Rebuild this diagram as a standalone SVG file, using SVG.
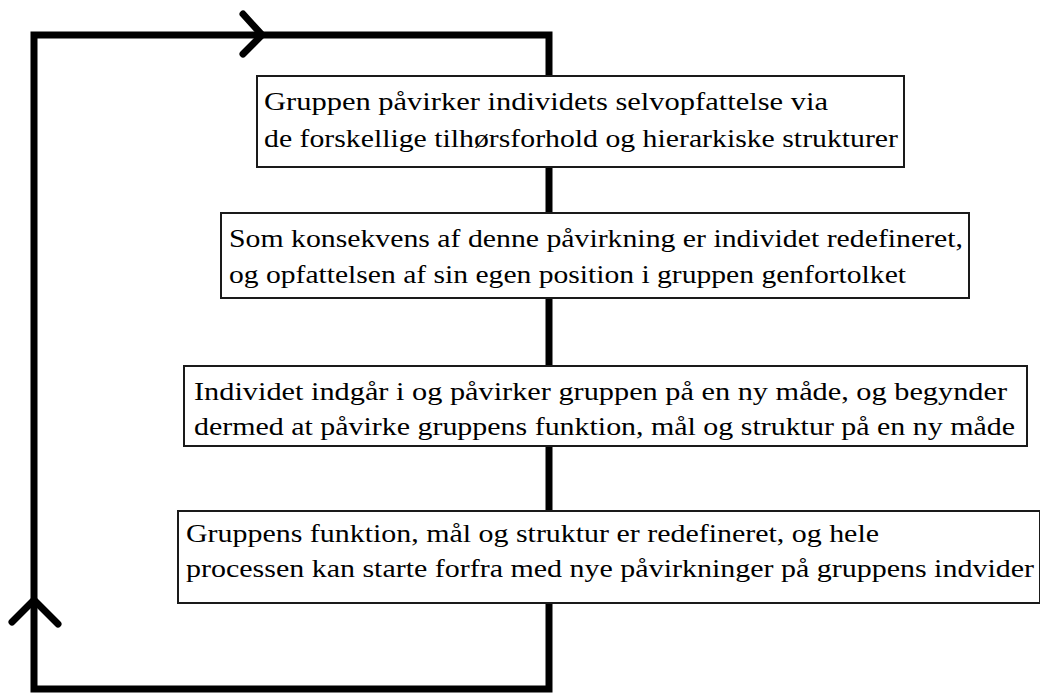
<svg xmlns="http://www.w3.org/2000/svg" width="1040" height="695" viewBox="0 0 1040 695">
<style>
.loop{fill:none;stroke:#000;stroke-width:7;stroke-linejoin:miter}
.head{fill:none;stroke:#000;stroke-width:7;stroke-linecap:round;stroke-linejoin:miter}
.box{fill:#fff;stroke:#1a1a1a;stroke-width:2}
.t{font-family:"Liberation Serif","Times New Roman",serif;font-size:25px;fill:#000}
</style>
<rect width="1040" height="695" fill="#fff"/>
<g id="connectors">
<path class="loop" d="M34 35 H549 V689 H34 Z"/>
<polyline class="head" points="243,14 262,35 243,54"/>
<polyline class="head" points="12,622 34,600 58,624"/>
</g>
<g id="node1">
<rect class="box" x="257" y="76" width="647" height="91"/>
<text class="t" x="264" y="110" textLength="564" lengthAdjust="spacingAndGlyphs">Gruppen påvirker individets selvopfattelse via</text>
<text class="t" x="264" y="147" textLength="634" lengthAdjust="spacingAndGlyphs">de forskellige tilhørsforhold og hierarkiske strukturer</text>
</g>
<g id="node2">
<rect class="box" x="221" y="213" width="748" height="85"/>
<text class="t" x="229" y="247" textLength="734" lengthAdjust="spacingAndGlyphs">Som konsekvens af denne påvirkning er individet redefineret,</text>
<text class="t" x="229" y="283" textLength="677" lengthAdjust="spacingAndGlyphs">og opfattelsen af sin egen position i gruppen genfortolket</text>
</g>
<g id="node3">
<rect class="box" x="184" y="366" width="843" height="80"/>
<text class="t" x="194" y="400" textLength="813" lengthAdjust="spacingAndGlyphs">Individet indgår i og påvirker gruppen på en ny måde, og begynder</text>
<text class="t" x="194" y="435" textLength="821" lengthAdjust="spacingAndGlyphs">dermed at påvirke gruppens funktion, mål og struktur på en ny måde</text>
</g>
<g id="node4">
<rect class="box" x="178" y="511" width="862" height="92"/>
<text class="t" x="186" y="542" textLength="693" lengthAdjust="spacingAndGlyphs">Gruppens funktion, mål og struktur er redefineret, og hele</text>
<text class="t" x="186" y="577" textLength="848" lengthAdjust="spacingAndGlyphs">processen kan starte forfra med nye påvirkninger på gruppens indvider</text>
</g>
</svg>
